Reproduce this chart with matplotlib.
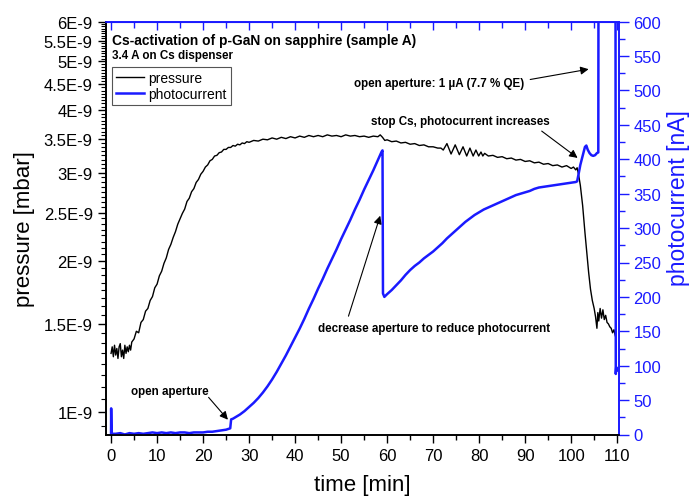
import matplotlib
matplotlib.use("Agg")
import matplotlib.pyplot as plt
from matplotlib.ticker import FixedLocator, MultipleLocator, FuncFormatter, NullFormatter

plt.rcParams['font.family'] = ['Liberation Sans', 'DejaVu Sans']

# ---------------- data ----------------
# pressure (units of 1e-9 mbar) vs time [min]
t_p = [0.00, 0.25, 0.50, 0.75, 1.00, 1.25, 1.50, 1.75, 2.00, 2.25, 2.50, 2.75, 3.00, 3.25,
       3.50, 3.75, 4.00, 4.25, 4.50,
       5.0, 5.5, 6.0, 6.5, 7.0, 7.5, 8.0, 8.5, 9.0, 9.5, 10.0, 10.5, 11.0, 11.5, 12.0, 12.5,
       13.0, 13.5, 14.0, 14.5, 15.0, 15.5, 16.0, 16.5, 17.0, 17.5, 18.0, 18.5, 19.0, 19.5,
       20.0, 20.5, 21.0, 21.5, 22.0, 22.5, 23.0, 23.5, 24.0, 24.5, 25.0, 25.5, 26.0, 26.5,
       27.0, 27.5, 28.0, 28.5, 29.0, 29.5, 30.0, 31.0, 32.0, 33.0, 34.0, 35.0, 36.0, 37.0,
       38.0, 39.0, 40.0, 41.0, 42.0, 43.0, 44.0, 45.0, 46.0, 47.0, 48.0, 49.0, 50.0, 51.0,
       52.0, 53.0, 54.0, 55.0, 56.0, 57.0, 58.0, 58.5, 59.0, 59.5, 60.0, 61.0, 62.0, 63.0,
       64.0, 65.0, 66.0, 67.0, 68.0, 69.0, 70.0, 71.0, 71.7, 72.2, 73.0, 73.9, 74.8, 75.7,
       76.5, 77.3, 78.0, 78.7, 79.3, 79.9, 80.4, 80.8, 81.2, 82.0, 83.0, 84.0, 85.0, 86.0,
       87.0, 88.0, 89.0, 90.0, 91.0, 92.0, 93.0, 94.0, 95.0, 96.0, 97.0, 98.0, 99.0, 100.0,
       100.5, 101.0, 101.3, 101.6, 102.0, 102.5, 103.0, 103.4, 103.8, 104.2, 104.6, 105.0,
       105.3, 105.6, 105.8, 106.0, 106.3, 106.6, 106.9, 107.2, 107.5, 107.8, 108.1, 108.4,
       108.7, 109.0, 109.3, 109.6]
pressure = [1.31, 1.35, 1.29, 1.36, 1.30, 1.34, 1.28, 1.35, 1.37, 1.29, 1.33, 1.28, 1.36, 1.31,
            1.35, 1.32, 1.36, 1.33, 1.38,
            1.40, 1.45, 1.44, 1.51, 1.53, 1.59, 1.61, 1.67, 1.70, 1.77, 1.80, 1.87, 1.91, 1.98,
            2.03, 2.11, 2.16, 2.23, 2.29, 2.37, 2.43, 2.49, 2.54, 2.63, 2.67, 2.75, 2.79, 2.87,
            2.91, 2.98, 3.02, 3.08, 3.11, 3.17, 3.19, 3.24, 3.25, 3.29, 3.30, 3.34, 3.34, 3.37,
            3.37, 3.40, 3.39, 3.42, 3.41, 3.44, 3.43, 3.46, 3.45, 3.48, 3.47, 3.50, 3.49, 3.52,
            3.50, 3.53, 3.51, 3.54, 3.52, 3.55, 3.53, 3.56, 3.54, 3.56, 3.54, 3.57, 3.55, 3.56,
            3.54, 3.57, 3.55, 3.56, 3.54, 3.55, 3.53, 3.55, 3.54, 3.57, 3.53, 3.48, 3.49, 3.46,
            3.47, 3.44, 3.45, 3.42, 3.43, 3.40, 3.41, 3.38, 3.38, 3.36, 3.36, 3.33, 3.43, 3.27,
            3.41, 3.26, 3.38, 3.24, 3.36, 3.24, 3.33, 3.24, 3.30, 3.24, 3.28, 3.24, 3.25, 3.22,
            3.23, 3.20, 3.21, 3.18, 3.19, 3.16, 3.17, 3.14, 3.15, 3.12, 3.13, 3.10, 3.11, 3.08,
            3.10, 3.06, 3.08, 3.04, 3.07, 2.98, 2.83, 2.58, 2.28, 2.08, 1.90, 1.76, 1.67, 1.61,
            1.55, 1.47, 1.58, 1.52, 1.61, 1.54, 1.60, 1.53, 1.56, 1.51, 1.50, 1.48, 1.47, 1.44,
            1.46, 1.42]

# photocurrent [nA] vs time [min]
t_i = [0.0, 0.02, 0.1, 1, 2, 3, 4, 5, 6, 7, 8, 9, 10, 11, 12, 13, 14, 15, 16, 17, 18, 19, 20,
       21, 22, 23, 24, 25, 25.9, 26.1, 26.5, 27, 28, 29, 30, 31, 32, 33, 34, 35, 36, 37, 38,
       39, 40, 41, 42, 43, 44, 45, 46, 47, 48, 49, 50, 51, 52, 53, 54, 55, 56, 57, 58, 58.8,
       59.0, 59.1, 59.4, 60, 61, 62, 63, 64, 65, 66, 67, 68, 69, 70, 71, 72, 73, 74, 75, 76,
       77, 78, 79, 80, 81, 82, 83, 84, 85, 86, 87, 88, 89, 90, 91, 92, 93, 94, 95, 96, 97, 98,
       99, 100, 101, 101.3, 101.6, 102, 102.5, 103.0, 103.3, 103.6, 104, 104.4, 104.8, 105.2,
       105.6, 105.9, 106.0, 109.6, 109.7, 109.8, 109.9]
photocurrent = [0, 38, 1, 1, 2, 0, 2, 1, 2, 1, 2, 3, 2, 3, 2, 3, 2, 3, 3, 2, 3, 3, 3,
                4, 4, 5, 6, 7, 9, 22, 23, 25, 29, 34, 40, 46, 53, 61, 70, 80, 91, 103, 115,
                128, 141, 154, 168, 183, 197, 212, 226, 241, 255, 269, 284, 298, 312, 327, 341,
                356, 370, 384, 399, 411,
                413, 205, 200, 204, 210, 217, 224, 232, 239, 245, 250, 256, 261, 266, 272, 278,
                285, 291, 297, 303,
                309, 314, 319, 323, 327, 330, 333, 336, 339, 342, 345, 348, 350, 352, 354, 357,
                359, 360, 361, 362, 363, 364,
                365, 366, 367, 368, 378, 392, 405, 418, 420, 414, 409, 406, 405, 406,
                409, 410, 1000, 1000, 88, 98, 93]

p_major = [1.0, 1.5, 2.0, 2.5, 3.0, 3.5, 4.0, 4.5, 5.0, 5.5, 6.0]
x_ticks = [0, 10, 20, 30, 40, 50, 60, 70, 80, 90, 100, 110]
i_ticks = [0, 50, 100, 150, 200, 250, 300, 350, 400, 450, 500, 550, 600]

# ---------------- figure ----------------
W, H = 689, 502
fig = plt.figure(figsize=(W / 100, H / 100), dpi=100)
L, R, T, B = 106, 619, 22.7, 435.5
ax = fig.add_axes([L / W, 1 - B / H, (R - L) / W, (B - T) / H])
ax2 = ax.twinx()

BLUE = '#1a1aff'

ln1, = ax.plot(t_p, [v * 1e-9 for v in pressure], color='black', lw=1.0)
ln2, = ax2.plot(t_i, photocurrent, color=BLUE, lw=1.8)

ax.set_yscale('log')
ax.set_xlim(-1.1, 110.4)
ax.set_ylim(0.903e-9, 6.0e-9)
ax2.set_ylim(0, 600)

# left axis ticks
ax.yaxis.set_major_locator(FixedLocator([v * 1e-9 for v in p_major]))
ax.yaxis.set_major_formatter(FuncFormatter(lambda v, pos: ('%g' % (v * 1e9)) + 'E-9'))
minors = []
k = 0.9375
while k < 6.0:
    if abs(k * 2 - round(k * 2)) > 1e-6:
        minors.append(k * 1e-9)
    k += 0.0625
ax.yaxis.set_minor_locator(FixedLocator(minors))
ax.yaxis.set_minor_formatter(NullFormatter())
ax.tick_params(axis='y', which='major', direction='out', length=6, width=1, labelsize=12)
ax.tick_params(axis='y', which='minor', direction='out', length=3.5, width=0.8)

# x axis
ax.xaxis.set_major_locator(FixedLocator(x_ticks))
ax.xaxis.set_minor_locator(MultipleLocator(5))
ax.tick_params(axis='x', which='major', direction='out', length=6, width=1, labelsize=12)
ax.tick_params(axis='x', which='minor', direction='out', length=3.5, width=1)

# right axis
ax2.yaxis.set_major_locator(FixedLocator(i_ticks))
ax2.yaxis.set_minor_locator(MultipleLocator(25))
ax2.tick_params(axis='y', which='major', direction='out', length=7, width=1, labelsize=12,
                colors=BLUE)
ax2.tick_params(axis='y', which='minor', direction='out', length=4, width=1, colors=BLUE)

# top blue axis with inward ticks
sec = ax.secondary_xaxis('top')
sec.xaxis.set_major_locator(FixedLocator(x_ticks))
sec.xaxis.set_minor_locator(MultipleLocator(5))
sec.tick_params(axis='x', which='major', direction='in', length=6, width=1, colors=BLUE,
                labeltop=False)
sec.tick_params(axis='x', which='minor', direction='in', length=4, width=1, colors=BLUE)
sec.spines['top'].set_color(BLUE)

for a in (ax, ax2):
    a.spines['top'].set_color(BLUE)
    a.spines['right'].set_color(BLUE)
    a.spines['left'].set_color('black')
    a.spines['bottom'].set_color('black')
    for s in a.spines.values():
        s.set_linewidth(1.2)

ax.set_xlabel('time [min]', fontsize=16, labelpad=8)
ax.set_ylabel('pressure [mbar]', fontsize=16, labelpad=6)
ax2.set_ylabel('photocurrent [nA]', fontsize=16.5, color=BLUE)
ax2.yaxis.set_label_coords((667 - L) / (R - L), (B - 198) / (B - T))

# titles
fig.text(112 / W, 1 - 45 / H, 'Cs-activation of p-GaN on sapphire (sample A)',
         fontsize=9.9, fontweight='bold', va='baseline', ha='left')
fig.text(112 / W, 1 - 58.5 / H, '3.4 A on Cs dispenser',
         fontsize=8.4, fontweight='bold', va='baseline', ha='left')

leg = ax2.legend([ln1, ln2], ['pressure', 'photocurrent'], loc='upper left',
                 bbox_to_anchor=(112 / W, 1 - 68 / H), bbox_transform=fig.transFigure,
                 fontsize=10, frameon=True, fancybox=False, framealpha=1,
                 edgecolor='#555555', borderaxespad=0, handlelength=2.0,
                 borderpad=0.3, labelspacing=0.15, handletextpad=0.3)
leg.get_frame().set_linewidth(0.8)

arrow = dict(arrowstyle='-|>', color='black', lw=0.8, mutation_scale=12,
             shrinkA=0, shrinkB=0)
fs_ann = 8.4
ax2.text(12.8, 63, 'open aperture', fontsize=fs_ann,
         fontweight='bold', ha='center', va='center')
ax2.annotate('', xy=(25.4, 21.5), xytext=(21.2, 54), arrowprops=arrow)
ax2.text(70.2, 155, 'decrease aperture to reduce photocurrent', fontsize=fs_ann,
         fontweight='bold', ha='center', va='center')
ax2.annotate('', xy=(58.5, 318), xytext=(51.6, 172), arrowprops=arrow)
ax2.text(75.9, 456, 'stop Cs, photocurrent increases', fontsize=fs_ann,
         fontweight='bold', ha='center', va='center')
ax2.annotate('', xy=(101.4, 402), xytext=(93.6, 441), arrowprops=arrow)
ax2.text(71.3, 511, 'open aperture: 1 \u00b5A (7.7 % QE)', fontsize=fs_ann,
         fontweight='bold', ha='center', va='center')
ax2.annotate('', xy=(103.8, 531), xytext=(91.1, 516), arrowprops=arrow)

fig.savefig('out.png', dpi=100)
